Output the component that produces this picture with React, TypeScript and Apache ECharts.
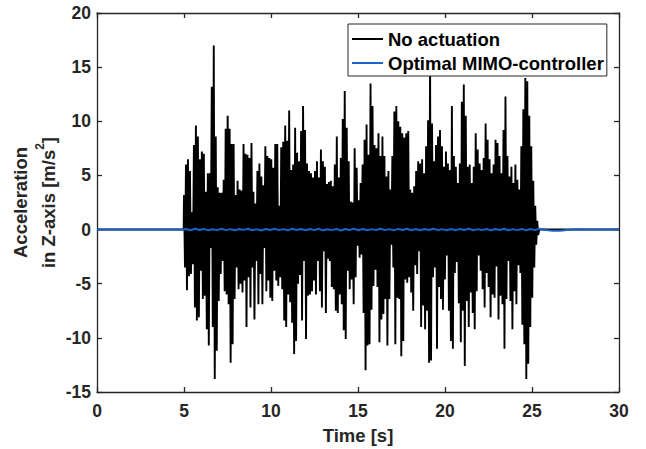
import React, { useEffect, useRef } from "react";
import * as echarts from "echarts";

// Axis ticks
const xTickValues = [0, 5, 10, 15, 20, 25, 30];
const yTickValues = [-15, -10, -5, 0, 5, 10, 15, 20];

// "No actuation": successive positive peaks of the signal (m/s^2), 5.0 s .. 25.3 s
const upperPeaksA = [3.2, 6.0, 6.5, 5.4, 1.6, 7.8, 9.6, 8.6, 6.5, 7.2, 7.0, 3.5, 5.2, 5.2, 13.2, 17.0, 8.6, 3.9, 3.4, 3.4, 4.6, 9.3, 10.5, 9.3, 7.9, 7.9, 3.2, 4.5, 3.7, 3.6, 7.9, 7.0, 6.9, 6.6, 8.0, 3.5, 2.4, 5.4, 6.1, 4.9, 4.1, 7.7, 6.8, 6.6, 6.5, 5.7, 7.9, 7.9, 2.2, 7.6, 8.1, 9.6, 8.2, 11.0, 5.5, 6.0];
const upperPeaksB = [9.4, 7.1, 6.3, 9.1, 11.4, 9.2, 6.1, 5.4, 5.2, 4.8, 5.4, 6.3, 4.8, 7.4, 6.3, 5.8, 4.2, 4.4, 4.5, 4.0, 6.0, 8.6, 4.8, 6.6, 10.2, 12.8, 9.4, 6.3, 2.6, 2.5, 7.5, 5.7, 2.7, 4.3, 6.0, 8.3, 9.7, 6.9, 13.5, 11.4, 7.8, 7.5, 8.9, 6.8, 8.6, 6.8, 4.9, 5.4, 3.7, 6.8, 10.9, 11.4, 10.0, 9.5, 8.9, 8.5, 8.9];
const upperPeaksC = [9.1, 3.7, 3.4, 4.0, 5.4, 6.3, 6.1, 6.5, 5.2, 7.7, 10.1, 15.5, 9.8, 6.3, 7.8, 8.6, 9.2, 7.7, 5.8, 7.2, 6.1, 5.5, 11.4, 6.8, 5.8, 4.3, 6.1, 11.8, 13.4, 10.5, 5.8, 6.0, 4.3, 5.8, 8.9, 7.4, 6.1, 5.5, 6.6, 9.8, 8.3, 6.5, 5.2, 6.0, 8.3, 8.0, 6.8, 5.2, 9.2, 12.3, 6.8, 4.9, 5.8, 4.3, 6.0, 4.6, 3.7, 7.7, 11.1, 14.0, 13.7, 10.5, 7.7, 4.5, 2.2, 0.8];

// "No actuation": successive negative peaks of the signal (m/s^2)
const lowerPeaksA = [-3.5, -5.6, -4.3, -4.1, -3.2, -7.2, -8.4, -8.1, -3.8, -6.4, -6.1, -9.2, -10.7, -1.7, -9.0, -13.8, -11.2, -6.6, -4.1, -2.9, -5.7, -6.0, -6.9, -12.3, -10.6, -6.4, -3.5, -5.5, -5.0, -5.8, -4.7, -9.0, -4.4, -7.2, -3.5, -8.3, -2.9, -6.9, -4.1, -6.9, -1.7, -5.7, -4.7, -6.3, -6.6, -3.8, -4.7, -5.2, -4.4, -5.5, -8.4, -9.0, -6.0, -6.7, -8.6, -11.5];
const lowerPeaksB = [-10.3, -5.0, -4.2, -8.4, -2.9, -10.1, -6.1, -6.0, -5.7, -4.7, -6.0, -2.9, -5.7, -7.2, -2.0, -7.7, -2.7, -2.9, -5.3, -5.5, -7.5, -7.7, -6.0, -6.9, -9.3, -10.1, -3.8, -5.5, -4.6, -6.9, -4.4, -1.5, -2.6, -2.3, -7.7, -13.0, -10.7, -10.6, -7.4, -5.2, -3.7, -5.3, -10.4, -8.3, -7.8, -6.4, -10.7, -6.4, -1.4, -3.5, -10.6, -6.3, -6.4, -11.7, -10.3, -4.6, -4.9];
const lowerPeaksC = [-4.4, -5.8, -7.5, -3.3, -4.1, -2.0, -9.0, -7.0, -9.2, -7.5, -12.3, -12.1, -4.4, -3.5, -11.0, -5.3, -6.4, -7.4, -4.6, -2.4, -7.5, -10.3, -11.0, -4.0, -3.0, -6.8, -10.4, -7.5, -12.6, -6.6, -9.0, -5.8, -7.7, -9.2, -5.7, -2.4, -3.8, -5.5, -7.2, -4.0, -5.3, -8.1, -6.0, -6.3, -3.4, -8.3, -6.1, -6.9, -11.0, -6.4, -2.9, -6.6, -9.2, -5.7, -6.9, -3.3, -4.0, -8.8, -10.6, -13.8, -12.4, -9.0, -6.3, -3.5, -1.4, -0.5];

const excitationStart = 5.0; // s
const excitationEnd = 25.3; // s
const timeEnd = 30; // s

// "Optimal MIMO-controller": small residual wiggle during excitation (m/s^2)
const controlledWiggle = [0.05, -0.06, 0.07, -0.04, 0.06, -0.07, 0.03, -0.05, 0.08, -0.05, 0.04, -0.07, 0.05, -0.03, 0.07, -0.06, 0.04, -0.08, 0.06, -0.04, 0.07, -0.05, 0.04, -0.07, 0.08, -0.04, 0.05, -0.06, 0.06, -0.05, 0.07, -0.07, 0.03, -0.05, 0.06, -0.08, 0.05, -0.04, 0.07, -0.06, 0.05, -0.07, 0.04, -0.05, 0.08, -0.05, 0.04, -0.07, 0.06, -0.04, 0.07, -0.06, 0.05, -0.07, 0.05, -0.04, 0.07, -0.05, 0.04, -0.06, 0.05, -0.07, 0.06, -0.04, 0.07, -0.06, 0.04, -0.05, 0.06, -0.07, 0.05, -0.04, 0.07, -0.06, 0.04, -0.05, 0.06, -0.07, 0.05, -0.05];
// Controlled response after the excitation stops
const controlledTailTimes = [25.4, 25.8, 26.2, 26.6, 27.0, 27.5, 28.0];
const controlledTailValues = [0.08, -0.03, -0.12, -0.1, -0.03, 0.02, 0.0];

const FONT = 'Arial, "Liberation Sans", Helvetica, sans-serif';
const AXIS_COLOR = "#262626";
const BLUE = "#1a63c8";

function buildUncontrolled(): number[][] {
  const upper = [...upperPeaksA, ...upperPeaksB, ...upperPeaksC];
  const lower = [...lowerPeaksA, ...lowerPeaksB, ...lowerPeaksC];
  const n = Math.min(upper.length, lower.length);
  const dt = (excitationEnd - excitationStart) / (n - 1);
  const data: number[][] = [[0, 0], [excitationStart - 0.02, 0]];
  for (let i = 0; i < n; i++) {
    const t = excitationStart + i * dt;
    data.push([t, upper[i]]);
    data.push([t + dt / 2, lower[i]]);
  }
  data.push([excitationEnd + dt, 0]);
  data.push([timeEnd, 0]);
  return data;
}

function buildControlled(): number[][] {
  const data: number[][] = [[0, 0], [excitationStart, 0]];
  const n = controlledWiggle.length;
  const dt = (excitationEnd - excitationStart) / n;
  for (let i = 0; i < n; i++) {
    data.push([excitationStart + (i + 0.5) * dt, controlledWiggle[i]]);
  }
  for (let i = 0; i < controlledTailTimes.length; i++) {
    data.push([controlledTailTimes[i], controlledTailValues[i]]);
  }
  data.push([timeEnd, 0]);
  return data;
}

export default function App() {
  const ref = useRef<HTMLDivElement>(null);

  useEffect(() => {
    if (!ref.current) return;
    const chart = echarts.init(ref.current, undefined, { renderer: "svg" });

    const xMin = xTickValues[0];
    const xMax = xTickValues[xTickValues.length - 1];
    const yMin = yTickValues[0];
    const yMax = yTickValues[yTickValues.length - 1];

    const commonAxis = {
      axisLine: { show: true, onZero: false, lineStyle: { color: AXIS_COLOR, width: 1.3 } },
      axisTick: { show: true, inside: true, length: 5, lineStyle: { color: AXIS_COLOR, width: 1.3 } },
      splitLine: { show: false },
    };

    const option: any = {
      animation: false,
      backgroundColor: "#ffffff",
      grid: { left: 97, right: 27, top: 13, bottom: 57, containLabel: false, outerBoundsMode: "none" },
      legend: {
        orient: "vertical",
        left: 348,
        top: 24,
        backgroundColor: "#ffffff",
        borderColor: AXIS_COLOR,
        borderWidth: 1,
        borderRadius: 0,
        padding: [5, 3, 3, 4],
        itemGap: 4,
        itemWidth: 31,
        itemHeight: 2,
        icon: "rect",
        textStyle: { fontFamily: FONT, fontSize: 18.5, fontWeight: "bold", color: "#000", lineHeight: 20 },
        data: [
          { name: "No actuation", icon: "rect", itemStyle: { color: "#000" } },
          { name: "Optimal MIMO-controller", icon: "rect", itemStyle: { color: BLUE } },
        ],
      },
      xAxis: [
        {
          ...commonAxis,
          type: "value",
          position: "bottom",
          min: xMin,
          max: xMax,
          interval: 5,
          name: "Time [s]",
          nameLocation: "middle",
          nameGap: 34,
          nameMoveOverlap: false,
          nameTextStyle: { fontFamily: FONT, fontSize: 18.5, fontWeight: "bold", color: AXIS_COLOR },
          axisLabel: { show: true, margin: 10, fontFamily: FONT, fontSize: 17.5, fontWeight: "bold", color: AXIS_COLOR },
        },
        {
          ...commonAxis,
          type: "value",
          position: "top",
          min: xMin,
          max: xMax,
          interval: 5,
          axisLabel: { show: false },
        },
      ],
      yAxis: [
        {
          ...commonAxis,
          type: "value",
          position: "left",
          min: yMin,
          max: yMax,
          interval: 5,
          name: "Acceleration\nin Z-axis [m/s{sup|2}]",
          nameLocation: "middle",
          nameGap: 35,
          nameMoveOverlap: false,
          nameTextStyle: {
            fontFamily: FONT,
            fontSize: 18.5,
            fontWeight: "bold",
            color: AXIS_COLOR,
            lineHeight: 28,
            rich: {
              sup: { fontFamily: FONT, fontSize: 12, fontWeight: "bold", color: AXIS_COLOR, verticalAlign: "top", lineHeight: 28 },
            },
          },
          axisLabel: { show: true, margin: 6, fontFamily: FONT, fontSize: 17.5, fontWeight: "bold", color: AXIS_COLOR },
        },
        {
          ...commonAxis,
          type: "value",
          position: "right",
          min: yMin,
          max: yMax,
          interval: 5,
          axisLabel: { show: false },
        },
      ],
      series: [
        {
          name: "No actuation",
          type: "line",
          data: buildUncontrolled(),
          symbol: "none",
          showSymbol: false,
          color: "#000",
          lineStyle: { color: "#000", width: 1.9, join: "miter", miterLimit: 1 },
          itemStyle: { color: "#000" },
          z: 2,
        },
        {
          name: "Optimal MIMO-controller",
          type: "line",
          data: buildControlled(),
          symbol: "none",
          showSymbol: false,
          color: BLUE,
          lineStyle: { color: BLUE, width: 2 },
          itemStyle: { color: BLUE },
          z: 3,
        },
      ],
    };

    chart.setOption(option);
    return () => chart.dispose();
  }, []);

  return (
    <div
      ref={ref}
      style={{ position: "fixed", left: 0, top: 0, width: 646, height: 449, background: "#fff" }}
    />
  );
}
